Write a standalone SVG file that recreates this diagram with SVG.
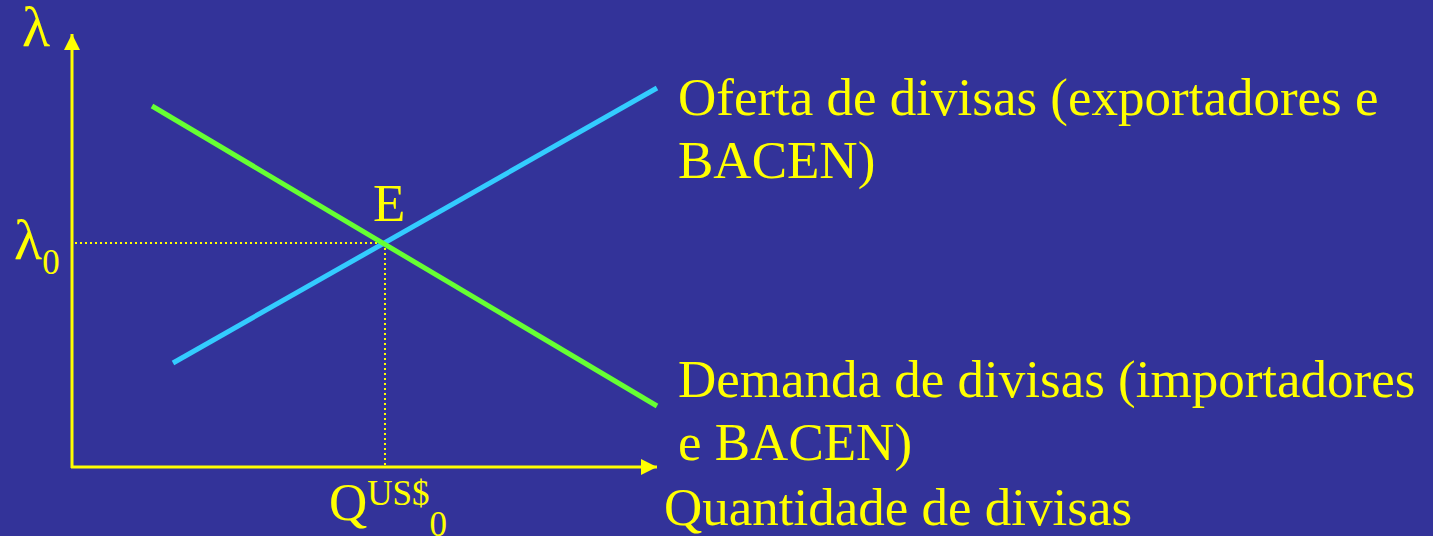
<svg xmlns="http://www.w3.org/2000/svg" width="1433" height="536" viewBox="0 0 1433 536">
<style>
text{font-family:"Liberation Serif","Times New Roman",serif;fill:#FFFF00;font-size:53px}
.sub{font-size:35px}
.lam{font-size:58px}
.ax{stroke:#FFFF00;stroke-width:3;fill:none}
.dot{stroke:#FFFF00;stroke-width:2;stroke-dasharray:2 3;fill:none}
</style>
<defs>
<marker id="ah" viewBox="0 0 16 16" refX="16" refY="8" markerWidth="16" markerHeight="16" markerUnits="userSpaceOnUse" orient="auto">
<path d="M0,0 L16,8 L0,16 Z" fill="#FFFF00"/>
</marker>
</defs>
<rect width="1433" height="536" fill="#333399"/>
<g id="connectors">
<line class="ax" x1="72" y1="468" x2="72" y2="34" marker-end="url(#ah)"/>
<line class="ax" x1="71" y1="467" x2="657" y2="467" marker-end="url(#ah)"/>
<line class="dot" x1="75" y1="243" x2="385" y2="243"/>
<line class="dot" x1="385" y1="243" x2="385" y2="466"/>
<line id="oferta" x1="173" y1="363" x2="657" y2="88" stroke="#33CCFF" stroke-width="5"/>
<line id="demanda" x1="152" y1="106" x2="657" y2="406" stroke="#66FF33" stroke-width="5"/>
</g>
<g id="lambda-axis"><text class="lam" x="22" y="46">λ</text></g>
<g id="lambda0"><text class="lam" x="14" y="259">λ<tspan class="sub" dy="15">0</tspan></text></g>
<g id="E"><text x="373" y="221">E</text></g>
<g id="q0"><text x="329" y="520">Q<tspan class="sub" dy="-15">US$</tspan><tspan class="sub" dy="31">0</tspan></text></g>
<g id="oferta-label"><text x="678" y="115">Oferta de divisas (exportadores e</text><text x="678" y="178">BACEN)</text></g>
<g id="demanda-label"><text x="678" y="397">Demanda de divisas (importadores</text><text x="678" y="460">e BACEN)</text></g>
<g id="x-label"><text x="664" y="525">Quantidade de divisas</text></g>
</svg>
